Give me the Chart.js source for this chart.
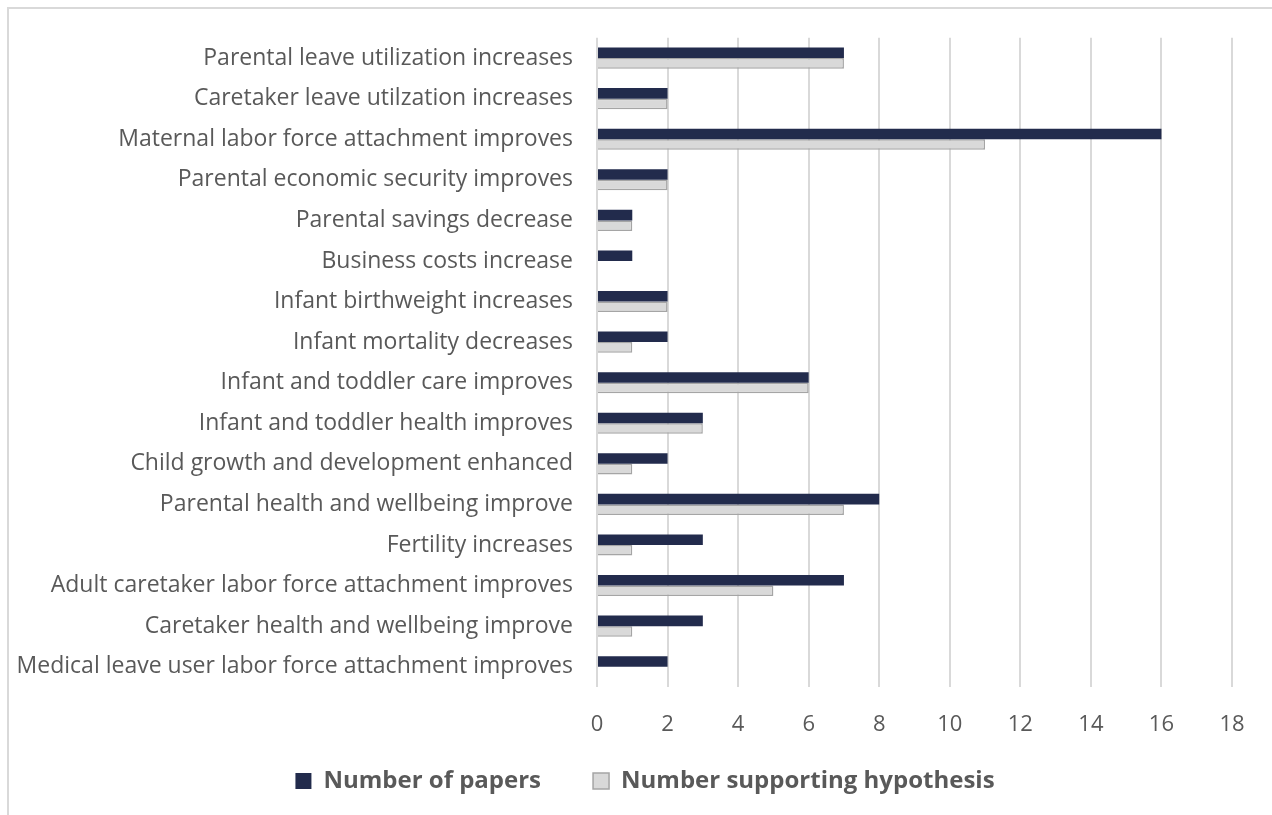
<!DOCTYPE html>
<html>
<head>
<meta charset="utf-8">
<script src="https://cdn.jsdelivr.net/npm/chart.js"></script>
<style>
  html, body { margin: 0; padding: 0; background: #ffffff; }
  #wrap { position: relative; width: 1272px; height: 815px; overflow: hidden; }
  #frame { position: absolute; left: 7px; top: 7px; width: 1300px; height: 900px; border: 2px solid #d9d9d9; box-sizing: border-box; }
  canvas { position: absolute; left: 0; top: 0; }
</style>
</head>
<body>
<div id="wrap">
  <div id="frame"></div>
  <canvas id="c" width="1272" height="815"></canvas>
</div>
<script>
const categories = [
  "Parental leave utilization increases",
  "Caretaker leave utilzation increases",
  "Maternal labor force attachment improves",
  "Parental economic security improves",
  "Parental savings decrease",
  "Business costs increase",
  "Infant birthweight increases",
  "Infant mortality decreases",
  "Infant and toddler care improves",
  "Infant and toddler health improves",
  "Child growth and development enhanced",
  "Parental health and wellbeing improve",
  "Fertility increases",
  "Adult caretaker labor force attachment improves",
  "Caretaker health and wellbeing improve",
  "Medical leave user labor force attachment improves"
];
const numberOfPapers = [7, 2, 16, 2, 1, 1, 2, 2, 6, 3, 2, 8, 3, 7, 3, 2];
const numberSupporting = [7, 2, 11, 2, 1, 0, 2, 1, 6, 3, 1, 7, 1, 5, 1, 0];
const xTicks = [0, 2, 4, 6, 8, 10, 12, 14, 16, 18];

const FONT = "'Open Sans', 'Noto Sans', sans-serif";

// Keep the legend compact in the layout while allowing wide spacing between items
const legendFix = {
  id: 'legendFix',
  afterInit(chart) {
    const lg = chart.legend;
    if (!lg) return;
    const orig = lg.fit.bind(lg);
    lg.fit = function () { orig(); this.height = 55; };
  },
  afterLayout(chart) {
    const lg = chart.legend;
    if (!lg) return;
    lg.top -= 35;
    lg.left += 24; lg.right += 24;
  }
};

new Chart(document.getElementById('c'), {
  type: 'bar',
  data: {
    labels: categories,
    datasets: [
      {
        label: 'Number of papers',
        data: numberOfPapers,
        backgroundColor: '#222b4c',
        borderColor: '#222b4c',
        borderWidth: 0,
        categoryPercentage: 0.52,
        barPercentage: 1.0
      },
      {
        label: 'Number supporting hypothesis',
        data: numberSupporting,
        backgroundColor: '#d9d9d9',
        borderColor: '#a5a5a5',
        borderWidth: 1.5,
        borderSkipped: 'start',
        categoryPercentage: 0.52,
        barPercentage: 1.0
      }
    ]
  },
  plugins: [legendFix],
  options: {
    indexAxis: 'y',
    responsive: false,
    animation: false,
    devicePixelRatio: 1,
    layout: { padding: { left: 10, right: 40, top: 37, bottom: 8 } },
    scales: {
      x: {
        min: 0, max: 18,
        afterBuildTicks: (axis) => { axis.ticks = xTicks.map(v => ({ value: v })); },
        grid: { color: '#d9d9d9', lineWidth: 2, drawTicks: false },
        border: { display: false },
        ticks: { color: '#595959', font: { family: FONT, size: 22 }, padding: 25 },
        afterFit: (axis) => { axis.height = 65; }
      },
      y: {
        grid: { display: false, drawTicks: false },
        border: { display: false },
        ticks: { color: '#595959', font: { family: FONT, size: 23 }, padding: 24, autoSkip: false },
        afterFit: (axis) => { axis.width = 587; }
      }
    },
    plugins: {
      legend: {
        position: 'bottom',
        labels: {
          color: '#595959',
          font: { family: FONT, size: 24, weight: 'bold' },
          boxWidth: 16,
          boxHeight: 16,
          padding: 52,
          useBorderRadius: false
        }
      },
      tooltip: { enabled: false }
    }
  }
});
</script>
</body>
</html>
